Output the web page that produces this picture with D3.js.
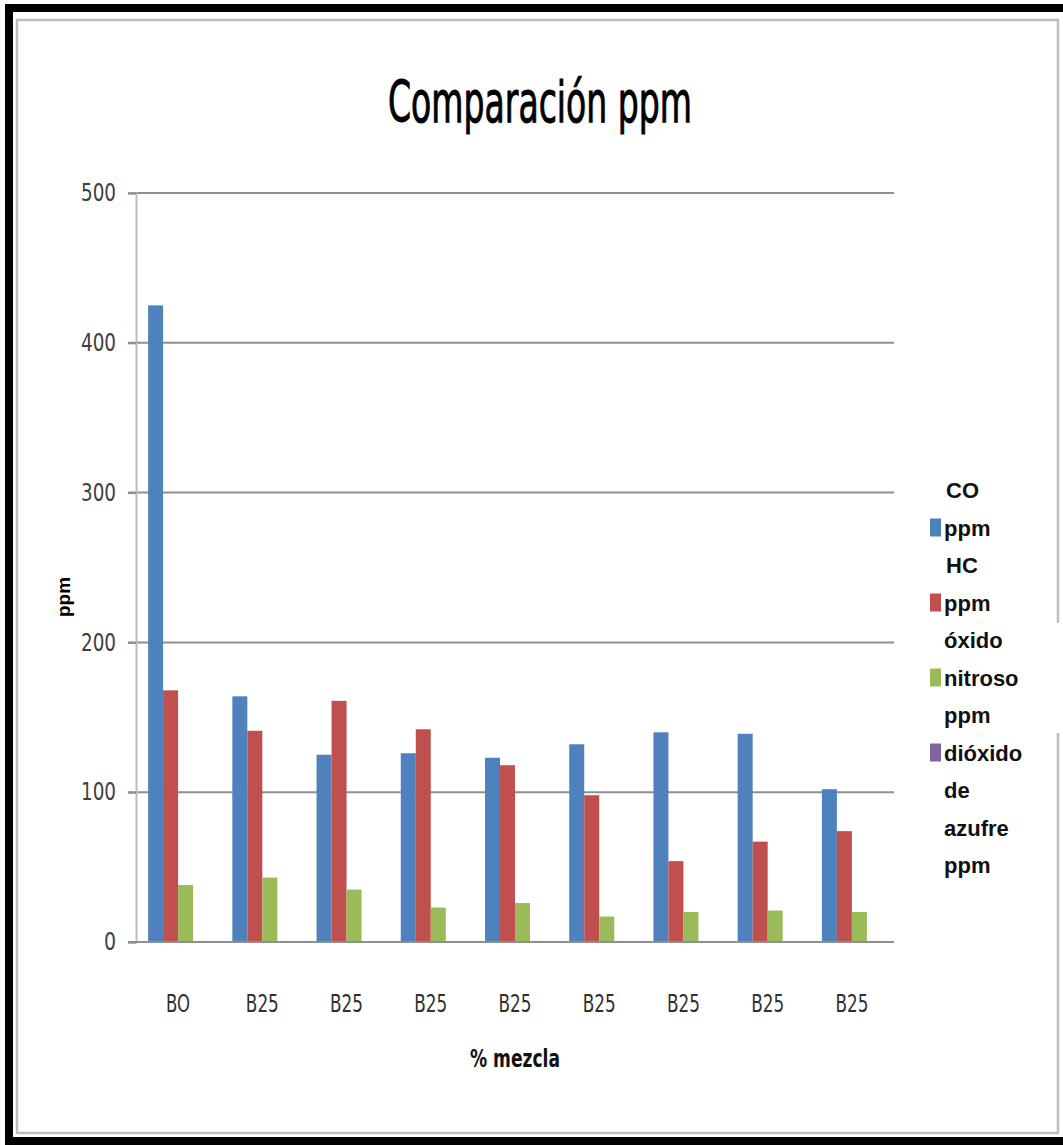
<!DOCTYPE html>
<html>
<head>
<meta charset="utf-8">
<script src="https://cdn.jsdelivr.net/npm/d3@7"></script>
<style>
  body { margin: 0; background: #fff; }
  svg { display: block; }
</style>
</head>
<body>
<div id="chart"></div>
<script>
// datos
const categories = ["BO", "B25", "B25", "B25", "B25", "B25", "B25", "B25", "B25"];
const seriesNames = ["CO ppm", "HC ppm", "óxido nitroso ppm", "dióxido de azufre ppm"];
const co  = [425, 164, 125, 126, 123, 132, 140, 139, 102];
const hc  = [168, 141, 161, 142, 118,  98,  54,  67,  74];
const nox = [ 38,  43,  35,  23,  26,  17,  20,  21,  20];
const so2 = [  0,   0,   0,   0,   0,   0,   0,   0,   0];
const yTicks = [0, 100, 200, 300, 400, 500];
const legendLines = [
  ["CO", "ppm"],
  ["HC", "ppm"],
  ["óxido", "nitroso", "ppm"],
  ["dióxido", "de", "azufre", "ppm"]
];
const legendKeyLine = [1, 1, 1, 0]; // linea donde va el cuadrito

const colors = ["#4F81BD", "#C0504D", "#9BBB59", "#8064A2"];
const values = [co, hc, nox, so2];

const W = 1063, H = 1145;
const plot = {left: 136, right: 894, top: 193, bottom: 942};
const narrow = "'DejaVu Sans Condensed', 'Liberation Sans Narrow', sans-serif";

const svg = d3.select("#chart").append("svg")
  .attr("width", W).attr("height", H);

svg.append("rect").attr("width", W).attr("height", H).attr("fill", "#fff");

// marcos
svg.append("rect")
  .attr("x", 9).attr("y", 8).attr("width", W).attr("height", 1133)
  .attr("fill", "none").attr("stroke", "#000").attr("stroke-width", 8);
svg.append("rect")
  .attr("x", 17).attr("y", 20).attr("width", 1041).attr("height", 1113)
  .attr("fill", "none").attr("stroke", "#bdbdbd").attr("stroke-width", 2.5);
// hueco del marco junto a la leyenda
svg.append("rect")
  .attr("x", 1052).attr("y", 623).attr("width", 11).attr("height", 110)
  .attr("fill", "#fff");

const x0 = d3.scaleBand()
  .domain(d3.range(categories.length))
  .range([plot.left, plot.right])
  .paddingInner(0.2875)
  .paddingOuter(0.14375);

const x1 = d3.scaleBand()
  .domain(d3.range(seriesNames.length))
  .range([0, x0.bandwidth()]);

const y = d3.scaleLinear().domain([0, 500]).range([plot.bottom, plot.top]);

// cuadricula
svg.append("g").selectAll("line").data(yTicks.filter(d => d > 0)).join("line")
  .attr("x1", plot.left - 8).attr("x2", plot.right)
  .attr("y1", d => y(d)).attr("y2", d => y(d))
  .attr("stroke", "#8f8f8f").attr("stroke-width", 2);

// eje y
const yAxis = svg.append("g")
  .attr("transform", `translate(${plot.left},0)`)
  .call(d3.axisLeft(y).tickValues(yTicks).tickSize(8).tickPadding(12));
yAxis.select(".domain").attr("stroke", "#bcbcbc").attr("stroke-width", 2);
yAxis.selectAll(".tick line").attr("stroke", "#8f8f8f").attr("stroke-width", 2);
yAxis.selectAll(".tick text")
  .attr("fill", "#404040")
  .attr("textLength", d => d === 0 ? 12 : 35).attr("lengthAdjust", "spacingAndGlyphs")
  .style("font-family", narrow)
  .style("font-size", "24px");

// barras
const groups = svg.append("g").selectAll("g").data(categories).join("g")
  .attr("transform", (d, i) => `translate(${x0(i)},0)`);

groups.selectAll("rect")
  .data((d, i) => values.map((s, k) => ({k: k, v: s[i]})))
  .join("rect")
  .attr("x", d => x1(d.k))
  .attr("width", x1.bandwidth())
  .attr("y", d => y(d.v))
  .attr("height", d => y(0) - y(d.v))
  .attr("fill", d => colors[d.k]);

// linea base
svg.append("line")
  .attr("x1", plot.left - 8).attr("x2", plot.right)
  .attr("y1", y(0)).attr("y2", y(0))
  .attr("stroke", "#8f8f8f").attr("stroke-width", 2);

// etiquetas x
svg.append("g").selectAll("text").data(categories).join("text")
  .attr("x", (d, i) => x0(i) + x0.bandwidth() / 2)
  .attr("y", 1012)
  .attr("text-anchor", "middle")
  .attr("textLength", d => d.length === 2 ? 24 : 33).attr("lengthAdjust", "spacingAndGlyphs")
  .attr("fill", "#303030")
  .style("font-family", narrow)
  .style("font-size", "24px")
  .text(d => d);

// titulo
svg.append("text")
  .attr("x", 540).attr("y", 122)
  .attr("text-anchor", "middle")
  .attr("textLength", 304).attr("lengthAdjust", "spacingAndGlyphs")
  .style("font-family", narrow)
  .style("font-size", "57px")
  .attr("fill", "#000").attr("stroke", "#000").attr("stroke-width", 1)
  .text("Comparación ppm");

// titulos de ejes
svg.append("text")
  .attr("x", (plot.left + plot.right) / 2).attr("y", 1067)
  .attr("text-anchor", "middle")
  .attr("textLength", 90).attr("lengthAdjust", "spacingAndGlyphs")
  .style("font-family", narrow)
  .style("font-size", "25px").style("font-weight", "bold")
  .attr("fill", "#111")
  .text("% mezcla");

svg.append("text")
  .attr("transform", "translate(70,597) rotate(-90)")
  .attr("text-anchor", "middle")
  .style("font-family", "'Liberation Sans', Arial, sans-serif")
  .style("font-size", "19px").style("font-weight", "bold")
  .attr("fill", "#000")
  .text("ppm");

// leyenda
const legend = svg.append("g");
let line = 0;
legendLines.forEach((lines, k) => {
  lines.forEach((t, j) => {
    const cy = 490 + (line + j) * 37.5;
    legend.append("text")
      .attr("x", j === 0 && k < 2 ? 946 : 944).attr("y", cy + 8)
      .style("font-family", "'Liberation Sans', Arial, sans-serif")
      .style("font-size", "22px").style("font-weight", "bold")
      .attr("fill", "#111")
      .text(t);
    if (j === legendKeyLine[k]) {
      legend.append("rect")
        .attr("x", 930).attr("y", cy - 9)
        .attr("width", 11).attr("height", 18)
        .attr("fill", colors[k]);
    }
  });
  line += lines.length;
});
</script>
</body>
</html>
